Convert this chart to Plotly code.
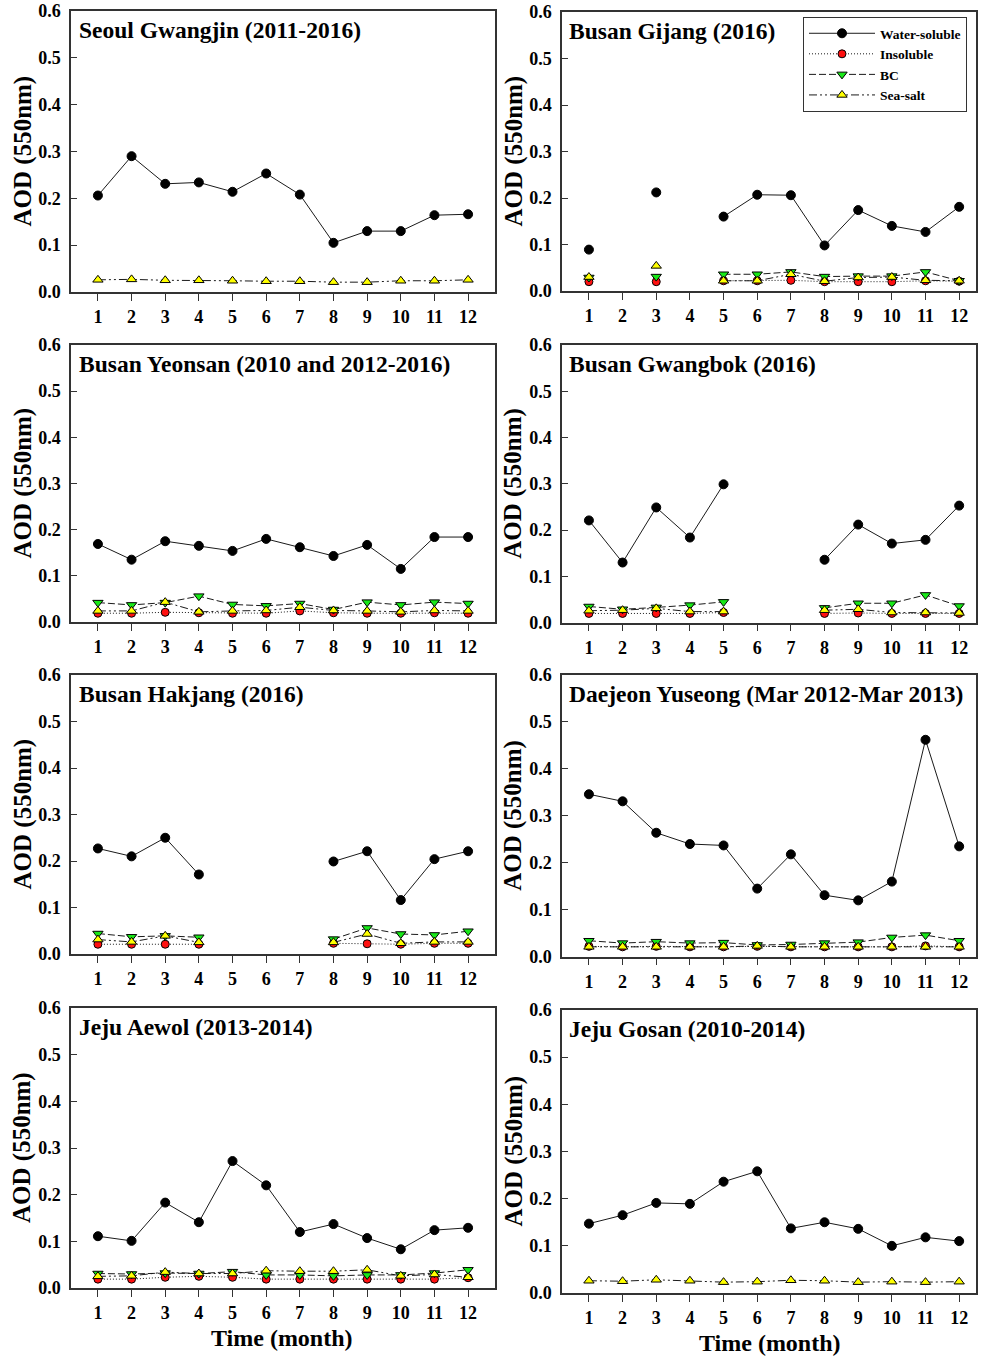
import plotly.graph_objects as go

months = list(range(1, 13))
N = None

titles = [
    "Seoul Gwangjin (2011-2016)",
    "Busan Gijang (2016)",
    "Busan Yeonsan (2010 and 2012-2016)",
    "Busan Gwangbok (2016)",
    "Busan Hakjang (2016)",
    "Daejeon Yuseong (Mar 2012-Mar 2013)",
    "Jeju Aewol (2013-2014)",
    "Jeju Gosan (2010-2014)",
]

# Water-soluble
ws_seoul = [0.206, 0.290, 0.231, 0.234, 0.214, 0.253, 0.208, 0.105, 0.130, 0.130, 0.164, 0.166]
ws_gijang = [0.089, N, 0.212, N, 0.160, 0.207, 0.206, 0.098, 0.174, 0.140, 0.127, 0.181]
ws_yeonsan = [0.169, 0.135, 0.175, 0.165, 0.154, 0.180, 0.162, 0.143, 0.167, 0.115, 0.184, 0.184]
ws_gwangbok = [0.221, 0.130, 0.249, 0.184, 0.299, N, N, 0.136, 0.212, 0.171, 0.179, 0.253]
ws_hakjang = [0.227, 0.210, 0.250, 0.171, N, N, N, 0.199, 0.221, 0.116, 0.204, 0.221]
ws_daejeon = [0.346, 0.331, 0.264, 0.240, 0.237, 0.145, 0.218, 0.131, 0.120, 0.160, 0.462, 0.235]
ws_aewol = [0.111, 0.101, 0.183, 0.141, 0.272, 0.220, 0.120, 0.137, 0.107, 0.083, 0.124, 0.129]
ws_gosan = [0.147, 0.165, 0.191, 0.189, 0.236, 0.258, 0.137, 0.150, 0.136, 0.100, 0.118, 0.110]

# Insoluble
ins_seoul = None
ins_gijang = [0.020, N, 0.020, N, 0.022, 0.022, 0.023, 0.020, 0.020, 0.020, 0.022, 0.021]
ins_yeonsan = [0.019, 0.019, 0.021, 0.020, 0.019, 0.019, 0.024, 0.020, 0.019, 0.019, 0.020, 0.019]
ins_gwangbok = [0.020, 0.020, 0.020, 0.020, 0.022, N, N, 0.020, 0.021, 0.020, 0.020, 0.020]
ins_hakjang = [0.021, 0.021, 0.021, 0.021, N, N, N, 0.023, 0.022, 0.021, 0.023, 0.023]
ins_daejeon = [0.022, 0.021, 0.022, 0.021, 0.021, 0.022, 0.021, 0.021, 0.021, 0.021, 0.023, 0.021]
ins_aewol = [0.019, 0.019, 0.023, 0.025, 0.023, 0.019, 0.019, 0.019, 0.019, 0.019, 0.019, 0.022]
ins_gosan = None

# BC
bc_seoul = None
bc_gijang = [0.029, N, 0.031, N, 0.036, 0.036, 0.041, 0.031, 0.032, 0.032, 0.041, 0.022]
bc_yeonsan = [0.042, 0.037, 0.042, 0.056, 0.038, 0.035, 0.040, 0.027, 0.043, 0.037, 0.043, 0.040]
bc_gwangbok = [0.035, 0.029, 0.033, 0.038, 0.045, N, N, 0.032, 0.042, 0.042, 0.060, 0.036]
bc_hakjang = [0.044, 0.037, 0.039, 0.036, N, N, N, 0.032, 0.056, 0.043, 0.041, 0.049]
bc_daejeon = [0.034, 0.029, 0.032, 0.029, 0.030, 0.025, 0.026, 0.029, 0.031, 0.041, 0.046, 0.034]
bc_aewol = [0.031, 0.030, 0.032, 0.031, 0.035, 0.028, 0.028, 0.026, 0.028, 0.028, 0.032, 0.039]
bc_gosan = None

# Sea-salt
ss_seoul = [0.026, 0.027, 0.025, 0.025, 0.024, 0.023, 0.023, 0.021, 0.021, 0.024, 0.024, 0.026]
ss_gijang = [0.030, N, 0.054, N, 0.022, 0.022, 0.036, 0.021, 0.029, 0.030, 0.023, 0.022]
ss_yeonsan = [0.024, 0.024, 0.043, 0.022, 0.024, 0.025, 0.032, 0.025, 0.024, 0.022, 0.025, 0.024]
ss_gwangbok = [0.026, 0.027, 0.031, 0.024, 0.024, N, N, 0.027, 0.029, 0.022, 0.022, 0.021]
ss_hakjang = [0.031, 0.026, 0.039, 0.025, N, N, N, 0.025, 0.043, 0.023, 0.026, 0.026]
ss_daejeon = [0.021, 0.021, 0.021, 0.021, 0.021, 0.023, 0.021, 0.021, 0.021, 0.021, 0.021, 0.021]
ss_aewol = [0.025, 0.026, 0.034, 0.031, 0.031, 0.037, 0.036, 0.036, 0.039, 0.026, 0.029, 0.023]
ss_gosan = [0.026, 0.025, 0.028, 0.026, 0.023, 0.024, 0.027, 0.026, 0.023, 0.024, 0.023, 0.024]

panels = [
    (ws_seoul, ins_seoul, bc_seoul, ss_seoul),
    (ws_gijang, ins_gijang, bc_gijang, ss_gijang),
    (ws_yeonsan, ins_yeonsan, bc_yeonsan, ss_yeonsan),
    (ws_gwangbok, ins_gwangbok, bc_gwangbok, ss_gwangbok),
    (ws_hakjang, ins_hakjang, bc_hakjang, ss_hakjang),
    (ws_daejeon, ins_daejeon, bc_daejeon, ss_daejeon),
    (ws_aewol, ins_aewol, bc_aewol, ss_aewol),
    (ws_gosan, ins_gosan, bc_gosan, ss_gosan),
]

series_names = ["Water-soluble", "Insoluble", "BC", "Sea-salt"]
FONT = "Liberation Serif, Times New Roman, serif"
LINE = "#1a1a1a"
styles = [
    dict(line=dict(color=LINE, width=1, dash="solid"),
         marker=dict(symbol="circle", size=9, color="black", line=dict(color="black", width=1))),
    dict(line=dict(color=LINE, width=1, dash="1px,2px"),
         marker=dict(symbol="circle", size=8, color="#ff1010", line=dict(color="black", width=1))),
    dict(line=dict(color=LINE, width=1, dash="7px,3px"),
         marker=dict(symbol="triangle-down", size=9, color="#18e818", line=dict(color="black", width=1))),
    dict(line=dict(color=LINE, width=1, dash="8px,3px,2px,3px,2px,3px"),
         marker=dict(symbol="triangle-up", size=9, color="#ffff00", line=dict(color="black", width=1))),
]

W, H = 985, 1359
left_x = [71 / W, 495 / W]
right_x = [562 / W, 976 / W]
ydoms = [
    ([1 - 292 / H, 1 - 11 / H], [1 - 291 / H, 1 - 12 / H]),
    ([1 - 622 / H, 1 - 345 / H], [1 - 622.7 / H, 1 - 345 / H]),
    ([1 - 954 / H, 1 - 675 / H], [1 - 956.7 / H, 1 - 675 / H]),
    ([1 - 1288 / H, 1 - 1008 / H], [1 - 1293 / H, 1 - 1010 / H]),
]

fig = go.Figure()
layout = {}
annotations = []
for i, data in enumerate(panels):
    n = i + 1
    row, col = divmod(i, 2)
    xs = "" if n == 1 else str(n)
    for k, vals in enumerate(data):
        if vals is None:
            continue
        fig.add_trace(go.Scatter(
            x=months, y=vals, mode="lines+markers", name=series_names[k],
            xaxis="x" + xs, yaxis="y" + xs, showlegend=(n == 2),
            connectgaps=False, cliponaxis=False, **styles[k]))
    xdom = left_x if col == 0 else right_x
    ydom = ydoms[row][col]
    xr = [0.2, 12.8] if col == 0 else [0.2, 12.5]
    layout["xaxis" + xs] = dict(
        domain=xdom, range=xr, anchor="y" + xs, tickmode="array", tickvals=months,
        ticktext=[str(m) for m in months], ticks="outside", ticklen=7, tickwidth=1,
        tickcolor="#333", showline=True, linecolor="#333", linewidth=1.5, mirror=True,
        showgrid=False, zeroline=False, ticklabelstandoff=1, automargin=False,
        tickfont=dict(family=FONT, size=18, color="black", weight="bold"))
    layout["yaxis" + xs] = dict(
        domain=ydom, range=[0, 0.6], anchor="x" + xs, tickmode="array",
        tickvals=[0, 0.1, 0.2, 0.3, 0.4, 0.5, 0.6],
        ticktext=["0.0", "0.1", "0.2", "0.3", "0.4", "0.5", "0.6"],
        ticks="inside", ticklen=6, tickwidth=1, tickcolor="#333",
        showline=True, linecolor="#333", linewidth=1.5, mirror=True,
        showgrid=False, zeroline=False, ticklabelstandoff=5, automargin=False,
        tickfont=dict(family=FONT, size=18, color="black", weight="bold"))
    annotations.append(dict(
        text=titles[i], xref="x" + xs + " domain", yref="y" + xs + " domain",
        x=0.013, y=0.933, xanchor="left", yanchor="middle", showarrow=False,
        font=dict(family=FONT, size=23.5, color="black", weight="bold")))
    annotations.append(dict(
        text="AOD (550nm)", xref="paper", yref="paper",
        x=(22 if col == 0 else 513) / W, y=(ydom[0] + ydom[1]) / 2,
        xanchor="center", yanchor="middle", textangle=-90, showarrow=False,
        font=dict(family=FONT, size=25, color="black", weight="bold")))

for xc, yc in ((282, 1338), (770, 1343)):
    annotations.append(dict(
        text="Time (month)", xref="paper", yref="paper", x=xc / W, y=1 - yc / H,
        xanchor="center", yanchor="middle", showarrow=False,
        font=dict(family=FONT, size=24, color="black", weight="bold")))

fig.update_layout(
    width=W, height=H, margin=dict(l=0, r=0, t=0, b=0, autoexpand=False),
    paper_bgcolor="white", plot_bgcolor="white",
    font=dict(family=FONT, color="black"),
    annotations=annotations,
    legend=dict(x=803 / W, y=1 - 17 / H, xanchor="left", yanchor="top",
                bordercolor="#333", borderwidth=1, bgcolor="white",
                itemwidth=66, tracegroupgap=0,
                font=dict(family=FONT, size=13.5, color="black", weight="bold")),
    **layout,
)

fig.write_html("out.html")
